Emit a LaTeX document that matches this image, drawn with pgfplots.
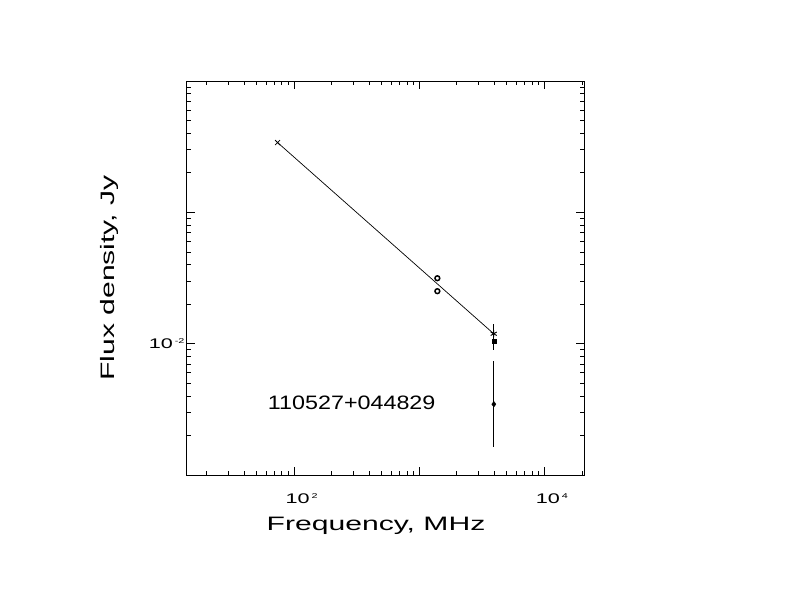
\documentclass[border=0pt]{standalone}
\usepackage{fontspec}
\usepackage{pgfplots}
\pgfplotsset{compat=1.18}
\newfontfamily\idl[FakeStretch=1.55]{Liberation Sans}
\newfontfamily\idlnum[FakeStretch=1.2]{Liberation Sans}
\newcommand{\tl}[2]{\idl\fontsize{14}{14}\selectfont #1\raisebox{5bp}{\fontsize{7}{7}\selectfont\hspace{2bp}#2}}

\begin{document}
\begin{tikzpicture}
\path[use as bounding box] (0,0) rectangle (792bp,612bp);
\begin{axis}[
    at={(186.7bp,137bp)}, anchor=south west,
    scale only axis, width=397.3bp, height=394bp,
    xmode=log, ymode=log,
    xmin=13.9, xmax=20800,
    ymin=1e-3, ymax=1,
    axis line style={line width=0.8bp},
    every tick/.style={black, line width=0.7bp},
    major tick length=8bp, minor tick length=4.5bp,
    tick align=inside,
    xtick={100,1000,10000},
    xticklabels={{\tl{10}{2}},{},{\tl{10}{4}}},
    minor xtick={20,30,40,50,60,70,80,90,200,300,400,500,600,700,800,900,
                 2000,3000,4000,5000,6000,7000,8000,9000,20000},
    ytick={0.001,0.01,0.1,1},
    yticklabels={{},{\tl{10}{-2}},{},{}},
    minor ytick={0.002,0.003,0.004,0.005,0.006,0.007,0.008,0.009,
                 0.02,0.03,0.04,0.05,0.06,0.07,0.08,0.09,
                 0.2,0.3,0.4,0.5,0.6,0.7,0.8,0.9},
    xticklabel style={anchor=north, inner sep=0pt, yshift=-18bp, xshift=7.6bp},
    yticklabel style={anchor=east, inner sep=0pt, xshift=-2bp},
    xlabel={\idl\fontsize{19.5}{19.5}\selectfont Frequency, MHz},
    xlabel style={at={(axis description cs:0.4765,-0.1421)}, anchor=base, inner sep=0pt},
    ylabel={\idl\fontsize{19.5}{19.5}\selectfont Flux density, Jy},
    ylabel style={at={(axis description cs:-0.1805,0.5)}, anchor=base, inner sep=0pt},
]
% fitted spectrum
\addplot[black, line width=0.7bp, mark=none] coordinates {(74,0.34) (3950,0.0119)};
% 74 MHz
\addplot[black, only marks, mark=x, mark size=3.5bp, line width=0.8bp] coordinates {(74,0.34)};
% 1400 MHz
\addplot[black, only marks, mark=o, mark size=2.4bp, line width=1.5bp] coordinates {(1400,0.0315) (1400,0.0251)};
% ~4 GHz
\addplot[black, only marks, mark=asterisk, mark size=3.5bp, line width=0.9bp] coordinates {(3950,0.0119)};
\addplot[black, only marks, mark=square*, mark size=2bp,
    error bars/.cd, y dir=both, y explicit, error mark=none,
    error bar style={line width=1bp}]
    coordinates {(3960,0.0105) += (0,0.0035) -= (0,0.0016)};
\addplot[black, only marks, mark=diamond*, mark size=2.8bp,
    error bars/.cd, y dir=both, y explicit, error mark=none,
    error bar style={line width=1bp}]
    coordinates {(3960,0.00346) += (0,0.0039) -= (0,0.00184)};
\node[anchor=base, inner sep=0pt] at (axis description cs:0.4153,0.1675)
    {\idlnum\fontsize{19.5}{19.5}\selectfont 110527+044829};
\end{axis}
\end{tikzpicture}
\end{document}
